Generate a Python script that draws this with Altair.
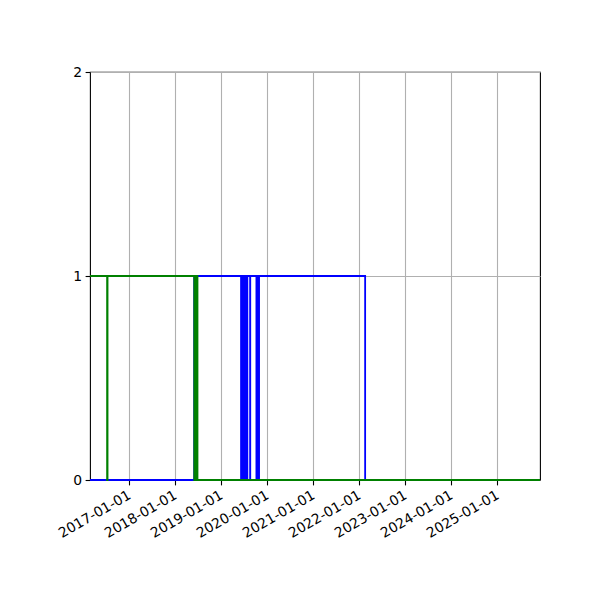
import altair as alt
import pandas as pd

# Series data
green_dates = ["2016-02-27", "2016-07-13", "2016-07-14",
               "2018-06-05", "2018-06-06", "2018-06-12", "2018-06-13",
               "2018-06-19", "2018-06-20", "2018-06-28", "2025-12-08"]
green_vals = [1, 0, 1, 0, 1, 0, 1, 0, 1, 0, 0]

blue_dates = ["2016-02-27", "2018-06-03",
              "2019-06-10", "2019-06-11", "2019-06-17", "2019-06-18",
              "2019-06-24", "2019-06-25", "2019-07-01", "2019-07-02",
              "2019-07-08", "2019-07-09", "2019-07-15", "2019-07-16",
              "2019-07-29", "2019-07-30", "2019-08-21", "2019-08-22",
              "2019-10-10", "2019-10-11", "2019-10-20", "2019-10-21",
              "2019-10-30", "2019-10-31",
              "2022-02-19", "2025-12-08"]
blue_vals = [0, 1, 0, 1, 0, 1, 0, 1, 0, 1, 0, 1, 0, 1, 0, 1, 0, 1, 0, 1, 0, 1, 0, 1, 0, 0]

tick_years = [2017, 2018, 2019, 2020, 2021, 2022, 2023, 2024, 2025]
y_ticks = [0, 1, 2]
x_start = (2016, 2, 27)
x_end = (2025, 12, 8)

df = pd.concat([
    pd.DataFrame({"date": blue_dates, "value": blue_vals, "series": "blue"}),
    pd.DataFrame({"date": green_dates, "value": green_vals, "series": "green"}),
])

def dt(t):
    return alt.DateTime(year=t[0], month=t[1], date=t[2], utc=True)

x_enc = alt.X(
    "date:T",
    scale=alt.Scale(type="utc", domain=[dt(x_start), dt(x_end)], nice=False),
    axis=alt.Axis(
        values=[alt.DateTime(year=y, month=1, date=1, utc=True) for y in tick_years],
        labelExpr="utcFormat(datum.value, '%Y-%m-%d')",
        labelAngle=-30, labelAlign="right", labelBaseline="top",
        labelOverlap=False, labelBound=False, labelOffset=-3,
        title=None, grid=True, gridColor="#b0b0b0", gridWidth=1.1,
        tickColor="black", tickSize=4.9, tickWidth=1.1, labelPadding=3,
        domain=False, labelColor="black",
    ),
)
y_enc = alt.Y(
    "value:Q",
    scale=alt.Scale(domain=[0, 2], nice=False, zero=False),
    axis=alt.Axis(
        values=y_ticks, labelExpr="format(datum.value, 'd')", title=None,
        grid=True, labelOverlap=False,
        gridColor="#b0b0b0", gridWidth=1.1, tickColor="black",
        tickSize=4.9, tickWidth=1.1, labelPadding=3.5, domain=False,
        labelColor="black",
    ),
)

base = alt.Chart(df).encode(x=x_enc, y=y_enc)

blue = base.transform_filter(alt.datum.series == "blue").mark_line(
    interpolate="step-after", color="#0000ff", strokeWidth=1.8, clip=False
)
green = base.transform_filter(alt.datum.series == "green").mark_line(
    interpolate="step-after", color="#008000", strokeWidth=2.1, clip=False
)

chart = alt.layer(blue, green).properties(
    width=450, height=408,
    autosize=alt.AutoSizeParams(type="none"),
    padding={"left": 82, "top": 64, "right": 52, "bottom": 112},
).configure_view(
    stroke="black", strokeWidth=1.1
).configure_axis(
    labelFont="DejaVu Sans", labelFontSize=13.9
)

chart.save("out.html", embed_options={"renderer": "svg", "actions": False})
